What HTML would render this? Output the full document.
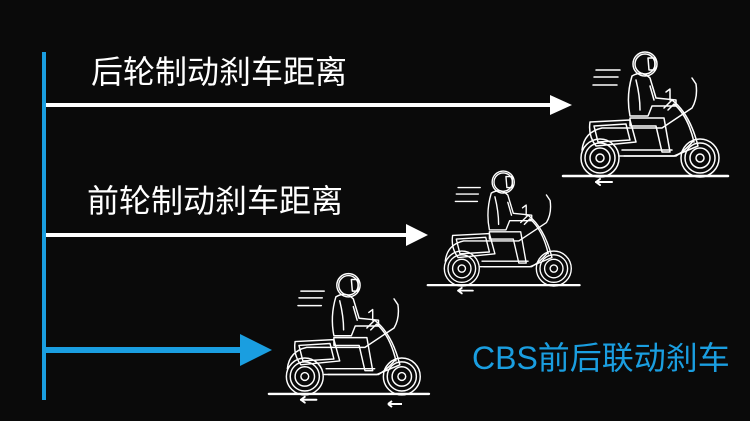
<!DOCTYPE html>
<html><head><meta charset="utf-8"><style>
html,body{margin:0;padding:0;background:#0a0a0a;}
body{width:750px;height:421px;overflow:hidden;position:relative;font-family:"Liberation Sans","Noto Sans CJK SC",sans-serif;}
.t{position:absolute;color:#fff;font-size:32px;line-height:1;white-space:nowrap;letter-spacing:0}
</style></head><body>
<div class="t" style="left:91px;top:56px">后轮制动刹车距离</div>
<div class="t" style="left:87px;top:185px">前轮制动刹车距离</div>
<div class="t" style="left:472px;top:342px;color:#1a9ee0;font-size:32px">CBS前后联动刹车</div>
<svg width="750" height="421" style="position:absolute;left:0;top:0" xmlns="http://www.w3.org/2000/svg">
<defs>
<g id="sc" fill="none" stroke="#fff" stroke-width="1.5" stroke-linejoin="round" stroke-linecap="round">
  <line x1="3" y1="136" x2="168" y2="136" stroke-width="2.5"/>
  <path d="M36 142h16" stroke-width="2"/><path d="M36 142l4-3M36 142l4 3" stroke-width="2"/>
  <line x1="36" y1="30" x2="60" y2="30"/><line x1="34" y1="37" x2="58" y2="37"/><line x1="33" y1="45" x2="57" y2="45"/>
  <circle cx="40" cy="118" r="19"/><circle cx="40" cy="118" r="15"/><circle cx="40" cy="118" r="10"/><circle cx="40" cy="118" r="4"/>
  <circle cx="140" cy="118" r="19"/><circle cx="140" cy="118" r="15"/><circle cx="140" cy="118" r="10"/><circle cx="140" cy="118" r="4"/>
  <circle cx="85" cy="24" r="12"/><circle cx="85" cy="24" r="10"/><path d="M88 18h7v12h-6z"/>
  <path d="M72 36q10-6 18 2l6 20 20 2v6l-24 0-4 10h-18q-4-20 2-40z"/>
  <path d="M76 40q4 16 4 30M90 46l4 14"/>
  <path d="M70 78h34l6 34h-8l-6-26h-26z"/>
  <path d="M30 82l40-2 6 22-40 4q-8-10-6-24z"/>
  <path d="M34 86l32-2 4 16-32 2z"/>
  <path d="M22 110q2-18 20-22l60 0 30-20q6-10 4-24l-4-6"/>
  <path d="M104 68l8-8q18 14 26 46l-24 10h-50"/>
  <path d="M108 70l6-6q14 12 20 38"/>
  <path d="M60 116h56q10-6 18-16M62 110h50"/>
  <path d="M110 50v10M106 52l4-3"/>
</g>
</defs>
<rect x="42" y="52" width="4" height="348" fill="#1a9ee0"/>
<rect x="46" y="103" width="508" height="4" fill="#fff"/>
<polygon points="550,95 572,105 550,115" fill="#fff"/>
<rect x="46" y="233" width="364" height="4" fill="#fff"/>
<polygon points="406,224 428,235 406,246" fill="#fff"/>
<rect x="46" y="347" width="200" height="6" fill="#1a9ee0"/>
<polygon points="240,334 272,350 240,366" fill="#1a9ee0"/>
<use href="#sc" x="560" y="40"/>
<use href="#sc" transform="translate(425,160) scale(0.92)"/>
<use href="#sc" transform="translate(266,262) scale(0.97)"/>
<path d="M388 404h14M388 404l4-3M388 404l4 3" stroke="#fff" stroke-width="2" fill="none"/>
</svg>
</body></html>
